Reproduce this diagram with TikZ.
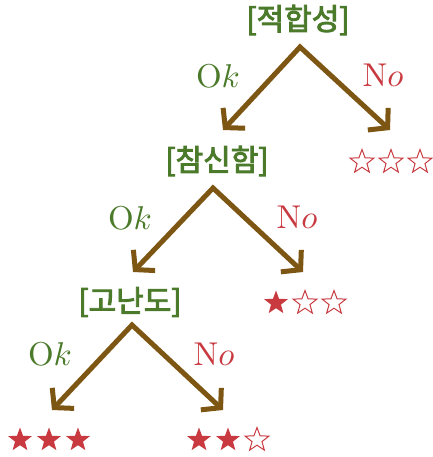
\documentclass[tikz,border=0pt]{standalone}
\usepackage{fontspec}
\newfontfamily\krfont{Noto Sans CJK KR}[FakeBold=3]
\usetikzlibrary{arrows.meta,shapes.geometric}
\definecolor{tgreen}{RGB}{74,122,42}
\definecolor{tred}{RGB}{200,58,64}
\definecolor{tbrown}{RGB}{124,86,18}
\tikzset{
  crit/.style={text=tgreen,font=\krfont\fontsize{30}{32}\selectfont,inner sep=0pt},
  oklab/.style={text=tgreen,font=\normalsize,inner sep=0pt,scale=3.3},
  nolab/.style={text=tred,font=\normalsize,inner sep=0pt,scale=3.3},
  branch/.style={draw=tbrown,line width=5pt,line join=miter,
    {Straight Barb[length=13pt,width=30pt]}-{Straight Barb[length=13pt,width=30pt]}},
  fullstar/.style={star,star points=5,star point ratio=2.4,minimum size=25pt,inner sep=0pt,fill=tred},
  emptystar/.style={star,star points=5,star point ratio=2.4,minimum size=25pt,inner sep=0pt,draw=tred,line width=1pt}
}
\begin{document}
\begin{tikzpicture}[x=1pt,y=-1pt]
\useasboundingbox (0,0) rectangle (432,457);
% criteria nodes
\node[crit] (c1) at (298,20) {[적합성]};
\node[crit] (c2) at (217,161) {[참신함]};
\node[crit] (c3) at (130,302) {[고난도]};
% apexes and tips
\coordinate (a1) at (300,47);
\coordinate (l1) at (223,130);
\coordinate (r1) at (390,130);
\coordinate (a2) at (213,188);
\coordinate (l2) at (133,272);
\coordinate (r2) at (303,272);
\coordinate (a3) at (132,325);
\coordinate (l3) at (52,410);
\coordinate (r3) at (223,410);
\draw[branch] (l1) -- (a1) -- (r1);
\draw[branch] (l2) -- (a2) -- (r2);
\draw[branch] (l3) -- (a3) -- (r3);
% labels
\node[oklab] (ok1) at (218,76) {O$k$};
\node[nolab] (no1) at (383,75) {N$o$};
\node[oklab] (ok2) at (130,218) {O$k$};
\node[nolab] (no2) at (297,217) {N$o$};
\node[oklab] (ok3) at (50,354) {O$k$};
\node[nolab] (no3) at (214,354) {N$o$};
% ratings
\node[emptystar] (s1a) at (362,162) {};
\node[emptystar] (s1b) at (391,162) {};
\node[emptystar] (s1c) at (420,162) {};
\node[fullstar] (s2a) at (276,303) {};
\node[emptystar] (s2b) at (305,303) {};
\node[emptystar] (s2c) at (334,303) {};
\node[fullstar] (s3a) at (20,440) {};
\node[fullstar] (s3b) at (49,440) {};
\node[fullstar] (s3c) at (78,440) {};
\node[fullstar] (s4a) at (199,440) {};
\node[fullstar] (s4b) at (228,440) {};
\node[emptystar] (s4c) at (257,440) {};
\end{tikzpicture}
\end{document}
